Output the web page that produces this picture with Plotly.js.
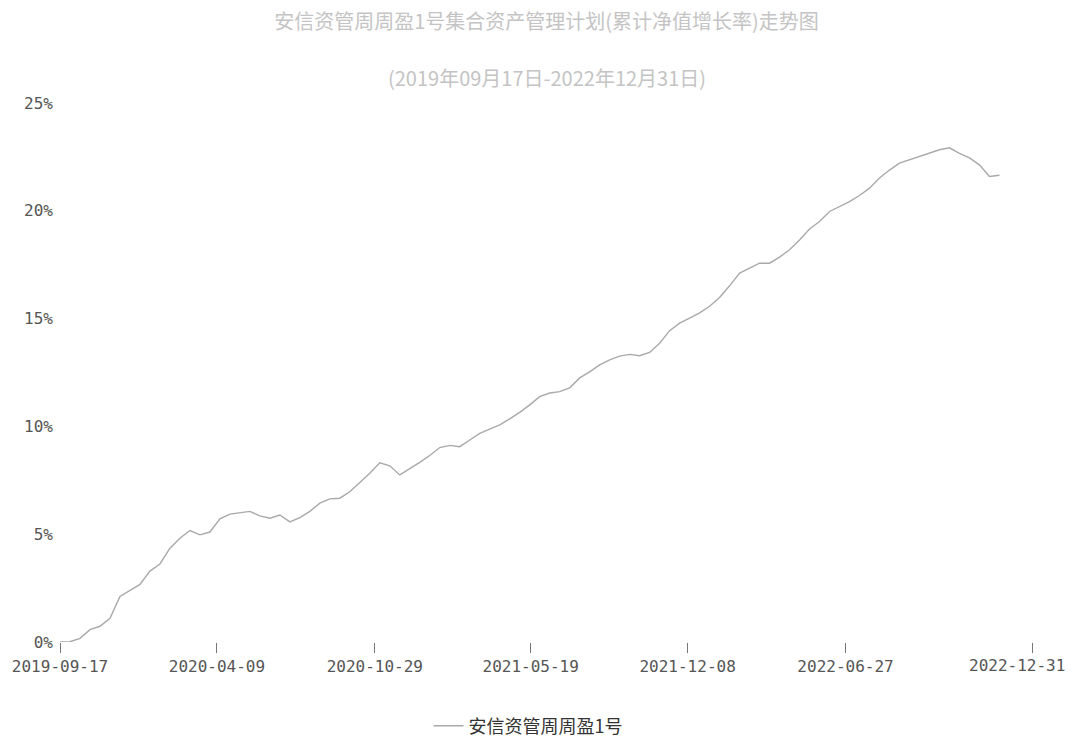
<!DOCTYPE html>
<html>
<head>
<meta charset="utf-8">
<script src="https://cdn.plot.ly/plotly-3.0.1.min.js"></script>
<style>
html,body{margin:0;padding:0;background:#fff;}
#chart{width:1072px;height:740px;}
</style>
</head>
<body>
<div id="chart"></div>
<script>
// Chart text
var chartTitle = "安信资管周周盈1号集合资产管理计划(累计净值增长率)走势图";
var chartSubtitle = "(2019年09月17日-2022年12月31日)";
var seriesName = "安信资管周周盈1号";

// Cumulative NAV growth (%), one value per sampling step along the time axis
var growthValues = [
  0.00, 0.01, 0.17, 0.57, 0.73, 1.10, 2.11, 2.38, 2.67, 3.29,
  3.62, 4.35, 4.81, 5.17, 4.97, 5.10, 5.71, 5.93, 5.99, 6.06,
  5.85, 5.74, 5.89, 5.57, 5.77, 6.06, 6.44, 6.64, 6.67, 6.97,
  7.40, 7.83, 8.31, 8.17, 7.75, 8.03, 8.33, 8.65, 9.02, 9.12,
  9.06, 9.37, 9.68, 9.87, 10.07, 10.35, 10.65, 11.00, 11.38, 11.55,
  11.61, 11.79, 12.25, 12.53, 12.85, 13.09, 13.26, 13.34, 13.28, 13.43,
  13.86, 14.44, 14.79, 15.02, 15.27, 15.57, 15.98, 16.52, 17.11, 17.34,
  17.57, 17.57, 17.85, 18.19, 18.65, 19.16, 19.50, 19.97, 20.21, 20.43,
  20.71, 21.05, 21.52, 21.89, 22.21, 22.37, 22.52, 22.69, 22.83, 22.92,
  22.66, 22.45, 22.13, 21.59, 21.65
];

// Axis tick labels (dates) and their positions along the sampling index
var tickDates = ["2019-09-17", "2020-04-09", "2020-10-29", "2021-05-19", "2021-12-08", "2022-06-27", "2022-12-31"];
var tickIndex = [0, 15.7, 31.5, 47.1, 62.8, 78.6, 97.3];
var yTicks = [0, 5, 10, 15, 20, 25];

var xIdx = growthValues.map(function(_, i){ return i; });
var lastI = tickDates.length - 1;
// the last date label is written as a note nudged left so it stays on the page
var tickText = tickDates.map(function(d, i){ return i === lastI ? "" : d; });

var tickFont = {size: 16, color: "#555", family: "'DejaVu Sans Mono', monospace"};

var trace = {
  x: xIdx,
  y: growthValues,
  type: "scatter",
  mode: "lines",
  name: seriesName,
  line: {color: "#a9a9a9", width: 1.4},
  hoverinfo: "skip"
};

var layout = {
  width: 1072,
  height: 740,
  paper_bgcolor: "#ffffff",
  plot_bgcolor: "#ffffff",
  margin: {l: 60, r: 39, t: 103, b: 98, autoexpand: false},
  font: {family: "'Noto Sans CJK SC', 'DejaVu Sans', sans-serif", color: "#555"},
  title: {
    text: chartTitle,
    font: {size: 20, color: "#c4c4c4", family: "'Noto Sans CJK SC', sans-serif"},
    x: 0.5, xanchor: "center",
    y: 1 - 22/740, yanchor: "middle",
    xref: "paper"
  },
  annotations: [{
    text: chartSubtitle,
    xref: "paper", yref: "paper",
    x: 0.5, xanchor: "center",
    y: 1 + (103 - 77)/539, yanchor: "middle",
    showarrow: false,
    font: {size: 20, color: "#c4c4c4", family: "'Noto Sans CJK SC', sans-serif"}
  }, {
    text: tickDates[lastI],
    xref: "x", yref: "paper",
    x: tickIndex[lastI], xanchor: "center", xshift: -15,
    y: -(665 - 642)/539, yanchor: "middle",
    showarrow: false,
    font: tickFont
  }],
  showlegend: true,
  legend: {
    orientation: "h",
    x: 0.481, xanchor: "center",
    yref: "container",
    y: (740 - 726)/740, yanchor: "middle",
    font: {size: 18, color: "#333", family: "'Noto Sans CJK SC', sans-serif"},
    itemwidth: 30
  },
  xaxis: {
    range: [0, 97.36],
    tickmode: "array",
    tickvals: tickIndex,
    ticktext: tickText,
    ticks: "outside",
    ticklen: 10,
    tickwidth: 1,
    tickcolor: "#777",
    showgrid: false,
    zeroline: false,
    showline: false,
    tickfont: tickFont
  },
  yaxis: {
    range: [0, 25],
    tickmode: "array",
    tickvals: yTicks,
    ticktext: yTicks.map(function(v){ return v + "%"; }),
    ticks: "",
    ticklabelstandoff: 6,
    showgrid: false,
    zeroline: false,
    showline: false,
    tickfont: tickFont
  }
};

Plotly.newPlot("chart", [trace], layout, {displayModeBar: false, staticPlot: true});
</script>
</body>
</html>
